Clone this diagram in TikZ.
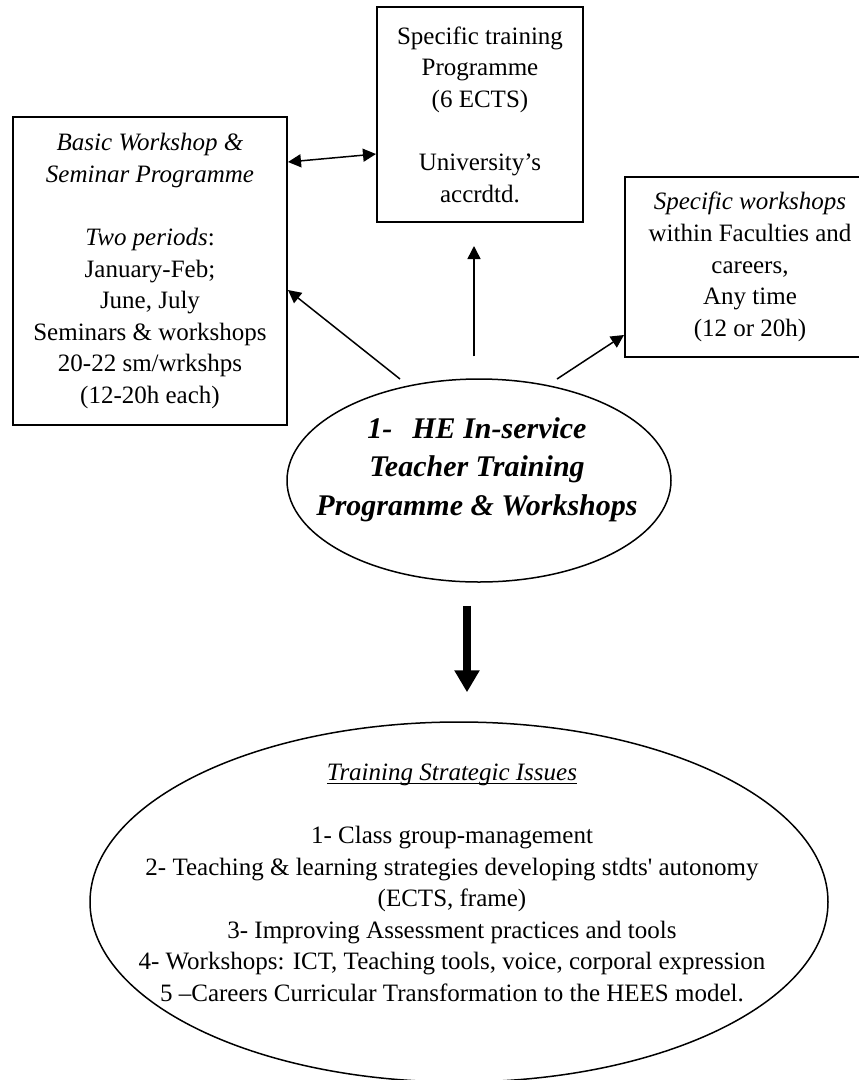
\documentclass[tikz,border=0pt]{standalone}
\usepackage{fontspec}
\setmainfont{Liberation Serif}
\usetikzlibrary{arrows.meta,shapes.geometric}
% underline drawn just below the baseline, crossing descenders
\newsavebox\ulbox
\newcommand\ulword[1]{\sbox\ulbox{#1}\rlap{\rule[-3.5pt]{\wd\ulbox}{1.2pt}}\usebox\ulbox}
\begin{document}
\begin{tikzpicture}[x=1pt,y=-1pt,
  body/.style={font=\fontsize{25}{31.6}\selectfont, align=center, inner sep=0pt},
  box/.style={body, draw, line width=2pt, rectangle},
  oval/.style={draw, ellipse, line width=1.5pt, inner sep=0pt},
  arr/.style={line width=1.5pt, -{Triangle[length=13pt,width=13pt]}},
  dblarr/.style={line width=1.5pt, {Triangle[length=13pt,width=13pt]}-{Triangle[length=13pt,width=13pt]}},
  bigarr/.style={line width=8pt, -{Triangle[length=22pt,width=24pt]}}]
\useasboundingbox (0,0) rectangle (859,1080);

% the three programme boxes
\node[box, minimum width=274pt, minimum height=308pt] (basic) at (150,271)
  {\textit{Basic Workshop \&}\\ \textit{Seminar Programme}\\ \mbox{}\\
   \textit{Two periods}:\\ January-Feb;\\ June, July\\ Seminars \& workshops\\
   20-22 sm/wrkshps\\ (12-20h each)};
\node[box, minimum width=206pt, minimum height=215pt] (course) at (480,114.5)
  {Specific training\\ Programme\\ (6 ECTS)\\ \mbox{}\\ University’s\\ accrdtd.};
\node[box, minimum width=250pt, minimum height=180pt] (faculty) at (750,267)
  {\textit{Specific workshops}\\ within Faculties and\\ careers,\\ Any time\\ (12 or 20h)};

% central programme ellipse
\node[oval, minimum width=384pt, minimum height=203pt] (core) at (479,480.5) {};
\node[font=\fontsize{30}{38.4}\selectfont\bfseries\itshape, align=center, inner sep=0pt]
  (coretext) at (477,469.5)
  {1-\hspace{20pt}HE In-service\\ Teacher Training\\ Programme \& Workshops};

% strategic issues ellipse
\node[oval, minimum width=738pt, minimum height=360pt] (issues) at (459,902) {};
\node[body] (issuetext) at (452,882.7)
  {\ulword{\textit{Training Strategic Issues}}\\ \mbox{}\\
   1- Class group-management\\
   2- Teaching \& learning strategies developing stdts\textquotesingle{} autonomy\\
   (ECTS, frame)\\
   3- Improving Assessment practices and tools\\
   4- Workshops: ICT, Teaching tools, voice, corporal expression\\
   5 –Careers Curricular Transformation to the HEES model.};

% connectors
\coordinate (fromL) at (400,379);
\coordinate (fromR) at (557,379);
\draw[dblarr] (basic.east |- 0,162) -- (course.west |- 0,154);
\draw[arr] (fromL) -- (basic.east |- 0,290);
\draw[arr] (fromR) -- (faculty.west |- 0,335);
\draw[arr, shorten <=22pt, shorten >=23pt] ([xshift=-5pt]core.north) -- ([xshift=-6pt]course.south);
\draw[bigarr, shorten <=23pt, shorten >=29pt] ([xshift=-12pt]core.south) -- ([xshift=8pt]issues.north);
\end{tikzpicture}
\end{document}
